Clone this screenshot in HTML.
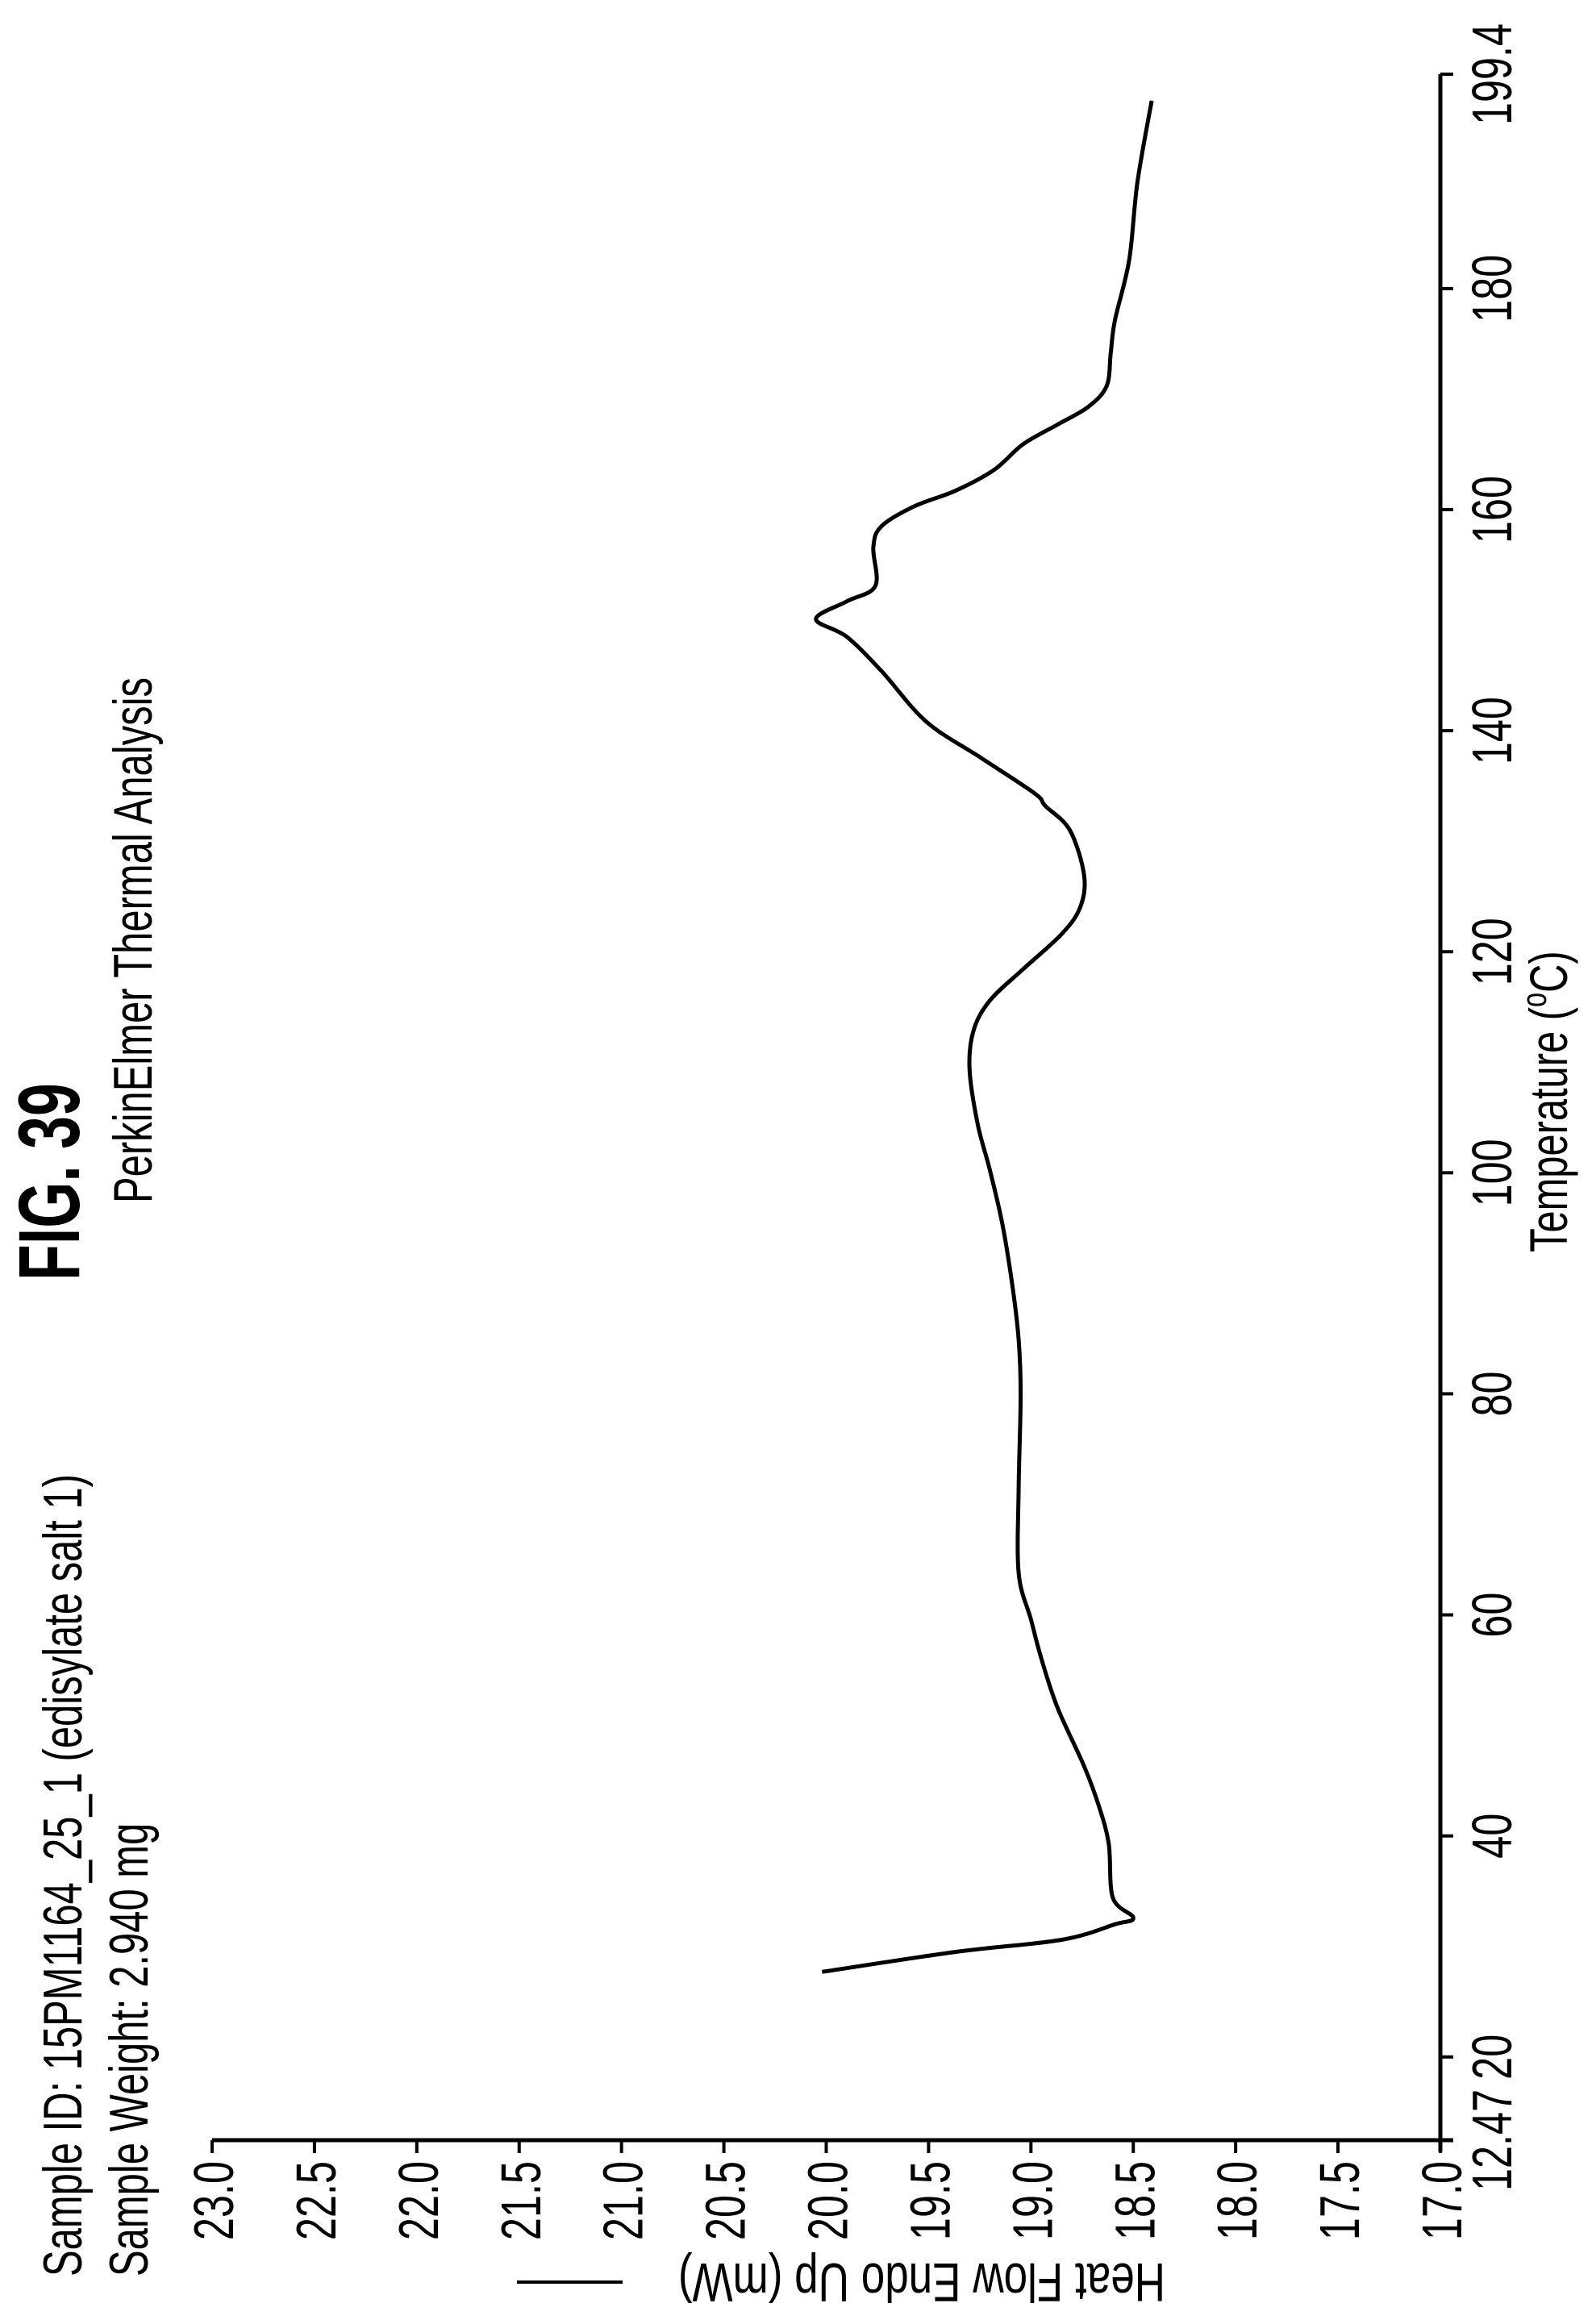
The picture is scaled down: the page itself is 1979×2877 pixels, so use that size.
<!DOCTYPE html>
<html><head><meta charset="utf-8"><style>
html,body{margin:0;padding:0;background:#fff;}
svg{display:block;}
text{font-family:"Liberation Sans",sans-serif;fill:#000;}
</style></head><body>
<svg id="chart" width="1979" height="2877" viewBox="0 0 1979 2877" xmlns="http://www.w3.org/2000/svg">
<g>
<text font-weight="bold" font-size="108" transform="translate(98,1588) rotate(-90) scale(0.68,1)">FIG. 39</text>
<text font-size="68" transform="translate(188,1492) rotate(-90) scale(0.72,1)">PerkinElmer Thermal Analysis</text>
<text font-size="68" transform="translate(101,2823) rotate(-90) scale(0.72,1)">Sample ID: 15PM1164_25_1 (edisylate salt 1)</text>
<text font-size="68" transform="translate(183,2823) rotate(-90) scale(0.72,1)">Sample Weight: 2.940 mg</text>
</g>
<g id="axes"></g>
<path id="curve" fill="none" stroke="#000" stroke-width="5" stroke-linejoin="round"/>
<text font-size="66" transform="translate(1943,1553) rotate(-90) scale(0.74,1)">Temperature (<tspan font-size="44" dy="-26">o</tspan><tspan dy="26">C)</tspan></text>
<text font-size="68" transform="translate(1445,2807) rotate(180) scale(0.78,1)">Heat Flow Endo Up (mW)</text>
<line x1="641" y1="2830" x2="772" y2="2830" stroke="#000" stroke-width="4"/>
</svg>
<script>
const tempTicks = [12.47, 20, 40, 60, 80, 100, 120, 140, 160, 180, 199.4];
const tempTickLabels = ["12.47","20","40","60","80","100","120","140","160","180","199.4"];
const heatTicks = [23.0,22.5,22.0,21.5,21.0,20.5,20.0,19.5,19.0,18.5,18.0,17.5,17.0];
const heatTickLabels = ["23.0","22.5","22.0","21.5","21.0","20.5","20.0","19.5","19.0","18.5","18.0","17.5","17.0"];
const temps = [27.7,29.5,30.6,32.0,32.6,34.4,39.3,42.8,46.3,51.6,56.1,59.6,63.8,71.5,79.9,84.9,89.7,95.4,100.2,104.4,109.4,112.9,115.6,118.4,121.6,124.0,126.9,131.0,133.2,134.3,137.5,140.8,145.4,148.5,150.1,151.7,153.1,156.6,158.5,160.3,161.7,163.6,165.9,167.7,169.3,171.2,174.2,177.1,182.6,189.6,197.0];
const heats = [20.02,19.37,18.85,18.59,18.50,18.60,18.62,18.67,18.74,18.87,18.95,19.00,19.06,19.06,19.05,19.06,19.09,19.14,19.20,19.26,19.30,19.28,19.20,19.04,18.85,18.76,18.74,18.81,18.93,18.98,19.24,19.51,19.73,19.90,20.05,19.90,19.76,19.77,19.73,19.57,19.37,19.18,19.04,18.87,18.72,18.63,18.61,18.59,18.52,18.48,18.41];

const NS = "http://www.w3.org/2000/svg";
const AX_X = 1786, AX_Y = 2654;
function tY(t){ return AX_Y - (t - 12.47) * (AX_Y - 92) / (199.4 - 12.47); }
function hX(h){ return 263 + (23.0 - h) * (AX_X - 263) / 6.0; }

const axes = document.getElementById('axes');
function mk(tag, attrs){ const e=document.createElementNS(NS,tag); for(const k in attrs) e.setAttribute(k,attrs[k]); return e; }

const tAxis = mk('line',{x1:AX_X,y1:tY(199.4),x2:AX_X,y2:AX_Y+14,stroke:'#000','stroke-width':5});


axes.appendChild(tAxis);
const hAxis = mk('line',{x1:hX(23.0),y1:AX_Y,x2:AX_X+16,y2:AX_Y,stroke:'#000','stroke-width':5});


axes.appendChild(hAxis);

tempTicks.forEach((t,i)=>{
  const y=tY(t);
  const tk=mk('line',{x1:AX_X,y1:y,x2:AX_X+16,y2:y,stroke:'#000','stroke-width':4});
  
  
  axes.appendChild(tk);
  const lb=mk('text',{'font-size':70,'text-anchor':'middle',transform:`translate(1874,${y}) rotate(-90) scale(0.72,1)`});
  lb.textContent=tempTickLabels[i];
  
  
  axes.appendChild(lb);
});
heatTicks.forEach((h,i)=>{
  const x=hX(h);
  const tk=mk('line',{x1:x,y1:AX_Y,x2:x,y2:AX_Y+16,stroke:'#000','stroke-width':4});
  
  
  axes.appendChild(tk);
  const lb=mk('text',{'font-size':70,'text-anchor':'end',transform:`translate(${x+26},2680) rotate(-90) scale(0.72,1)`});
  lb.textContent=heatTickLabels[i];
  
  
  axes.appendChild(lb);
});
const pts = temps.map((t,i)=>[hX(heats[i]), tY(t)]);
let d = 'M' + pts[0][0].toFixed(1) + ',' + pts[0][1].toFixed(1);
for (let i=0;i<pts.length-1;i++){
  const p0=pts[Math.max(0,i-1)], p1=pts[i], p2=pts[i+1], p3=pts[Math.min(pts.length-1,i+2)];
  const c1=[p1[0]+(p2[0]-p0[0])/6, p1[1]+(p2[1]-p0[1])/6];
  const c2=[p2[0]-(p3[0]-p1[0])/6, p2[1]-(p3[1]-p1[1])/6];
  d += ' C'+c1[0].toFixed(1)+','+c1[1].toFixed(1)+' '+c2[0].toFixed(1)+','+c2[1].toFixed(1)+' '+p2[0].toFixed(1)+','+p2[1].toFixed(1);
}
document.getElementById('curve').setAttribute('d', d);
</script>
</body></html>
